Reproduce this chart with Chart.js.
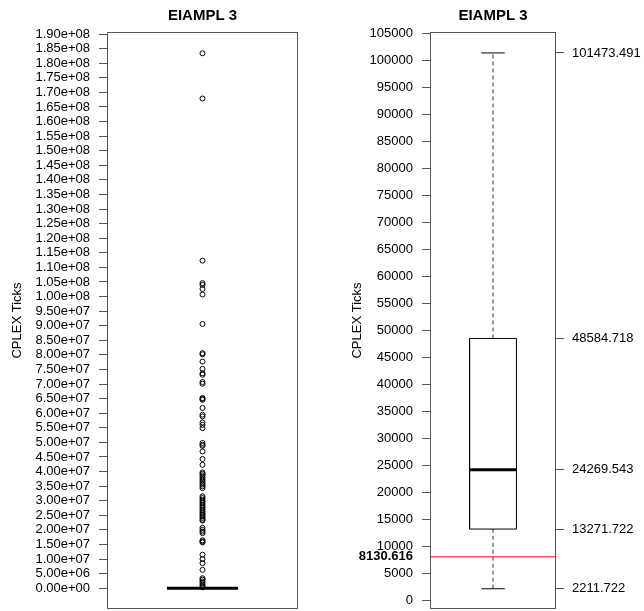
<!DOCTYPE html>
<html lang="en">
<head>
<meta charset="UTF-8">
<title>EIAMPL 3</title>
<script src="https://cdn.jsdelivr.net/npm/chart.js"></script>
<style>
    body { margin: 0; background: #fff; }
    .panel { position: absolute; top: 0; width: 322px; height: 611px; }
    #leftPanel { left: 0; }
    #rightPanel { left: 322px; }
</style>
</head>
<body>
<div class="panel" id="leftPanel"><canvas id="fullChart"></canvas></div>
<div class="panel" id="rightPanel"><canvas id="zoomChart"></canvas></div>
<script>
const chartTitle = 'EIAMPL 3';
const axisTitle = 'CPLEX Ticks';

// lower whisker, Q1, median, Q3, upper whisker
const boxStats = [2211.722, 13271.722, 24269.543, 48584.718, 101473.491];
const threshold = 8130.616;

const outliers = [
    1.834e8, 1.679e8, 1.123e8, 1.046e8, 1.040e8, 1.026e8, 1.007e8, 9.06e7,
    8.06e7, 8.02e7, 7.77e7, 7.52e7, 7.37e7, 7.32e7, 7.07e7, 7.01e7,
    6.52e7, 6.49e7, 6.46e7, 6.18e7, 5.95e7, 5.89e7, 5.68e7, 5.60e7, 5.49e7,
    4.98e7, 4.92e7, 4.88e7, 4.69e7, 4.43e7, 4.23e7,
    3.97e7, 3.92e7, 3.87e7, 3.80e7, 3.74e7, 3.68e7, 3.61e7, 3.55e7, 3.49e7, 3.43e7,
    3.15e7, 3.09e7, 3.03e7, 2.97e7, 2.92e7, 2.86e7, 2.80e7, 2.75e7, 2.69e7,
    2.63e7, 2.57e7, 2.52e7, 2.46e7, 2.41e7, 2.35e7, 2.32e7,
    2.07e7, 2.00e7, 1.94e7, 1.89e7, 1.64e7, 1.60e7, 1.57e7,
    1.15e7, 1.00e7, 8.6e6, 6.3e6, 3.4e6, 2.9e6, 2.3e6, 1.8e6, 1.2e6, 6e5, 3e5
];

const fullTicks = [
    0, 5e6, 1e7, 1.5e7, 2e7, 2.5e7, 3e7, 3.5e7, 4e7, 4.5e7, 5e7, 5.5e7, 6e7, 6.5e7,
    7e7, 7.5e7, 8e7, 8.5e7, 9e7, 9.5e7, 1e8, 1.05e8, 1.1e8, 1.15e8, 1.2e8, 1.25e8,
    1.3e8, 1.35e8, 1.4e8, 1.45e8, 1.5e8, 1.55e8, 1.6e8, 1.65e8, 1.7e8, 1.75e8,
    1.8e8, 1.85e8, 1.9e8
];
const zoomTicks = [
    0, 5000, 10000, 15000, 20000, 25000, 30000, 35000, 40000, 45000, 50000,
    55000, 60000, 65000, 70000, 75000, 80000, 85000, 90000, 95000, 100000, 105000
];

const FONT = "'Liberation Sans', Arial, sans-serif";
Chart.defaults.font.family = FONT;
Chart.defaults.font.size = 13;
Chart.defaults.color = '#000';

const AXIS_GREY = '#555';
// box position along the hidden 0..1 x scale
const BOX_L = 0.314, BOX_R = 0.686, MID = 0.5, CAP_L = 0.407, CAP_R = 0.593;

function seg(x1, y1, x2, y2, extra) {
    return Object.assign({
        type: 'scatter', showLine: true,
        data: [{ x: x1, y: y1 }, { x: x2, y: y2 }],
        borderColor: '#000', borderWidth: 1, pointRadius: 0
    }, extra || {});
}

function boxDatasets(s) {
    const [lo, q1, med, q3, hi] = s;
    return [
        seg(BOX_L, med, BOX_R, med, { borderWidth: 3 }),
        {
            type: 'scatter', showLine: true,
            data: [{ x: BOX_L, y: q1 }, { x: BOX_R, y: q1 }, { x: BOX_R, y: q3 }, { x: BOX_L, y: q3 }, { x: BOX_L, y: q1 }],
            borderColor: '#000', borderWidth: 1, pointRadius: 0
        },
        seg(CAP_L, hi, CAP_R, hi),
        seg(CAP_L, lo, CAP_R, lo),
        seg(MID, q3, MID, hi, { borderDash: [4, 3], borderColor: '#333' }),
        seg(MID, lo, MID, q1, { borderDash: [4, 3], borderColor: '#333' })
    ];
}

function sci(v) {
    if (v === 0) return '0.00e+00';
    const e = Math.floor(Math.log10(v) + 1e-9);
    const m = v / Math.pow(10, e);
    return m.toFixed(2) + 'e+' + String(e).padStart(2, '0');
}

function fixWidth(w) {
    return function (scale) {
        scale.width = w;
        scale.paddingTop = 0;
        scale.paddingBottom = 0;
    };
}

function topTitleAxis() {
    return {
        type: 'linear', position: 'top', min: 0, max: 1,
        grid: { display: false, drawTicks: false },
        border: { display: false },
        ticks: { display: false },
        title: { display: true, text: chartTitle, font: { size: 15, weight: 'bold' }, padding: { top: 7, bottom: 7 } }
    };
}

const frame = {
    id: 'frame',
    afterDatasetsDraw(chart) {
        const { ctx, chartArea: a } = chart;
        ctx.save();
        ctx.strokeStyle = AXIS_GREY;
        ctx.lineWidth = 1;
        ctx.strokeRect(Math.round(a.left) + 0.5, Math.round(a.top) + 0.5,
            Math.round(a.right - a.left) - 1, Math.round(a.bottom - a.top) - 1);
        ctx.restore();
    }
};

const common = {
    responsive: true,
    maintainAspectRatio: false,
    animation: false,
    events: [],
    plugins: { legend: { display: false }, tooltip: { enabled: false } }
};

// left: full data with outliers
new Chart(document.getElementById('fullChart'), {
    type: 'scatter',
    data: {
        datasets: boxDatasets(boxStats).concat([{
            type: 'scatter',
            data: outliers.map(v => ({ x: MID, y: v })),
            pointStyle: 'circle', pointRadius: 2.5,
            pointBackgroundColor: 'rgba(0,0,0,0)', pointBorderColor: '#000', pointBorderWidth: 1,
            showLine: false
        }])
    },
    options: Object.assign({}, common, {
        layout: { autoPadding: false, padding: { left: 0, right: 24, top: 0, bottom: 2 } },
        scales: {
            x: topTitleAxis(),
            y: {
                type: 'linear', min: -7.13e6, max: 1.907e8,
                afterBuildTicks: s => { s.ticks = fullTicks.map(v => ({ value: v })); },
                afterFit: fixWidth(107),
                ticks: { autoSkip: false, padding: 9, callback: v => sci(v) },
                grid: { drawOnChartArea: false, drawTicks: true, tickLength: 8, tickColor: AXIS_GREY },
                border: { display: false },
                title: { display: true, text: axisTitle, padding: { top: 10, bottom: 0 } }
            }
        }
    }),
    plugins: [frame]
});

// right: zoomed to the box, with threshold line
new Chart(document.getElementById('zoomChart'), {
    type: 'scatter',
    data: {
        datasets: [seg(0, threshold, 1, threshold, { borderColor: '#ff0000' })].concat(boxDatasets(boxStats))
    },
    options: Object.assign({}, common, {
        layout: { autoPadding: false, padding: { left: 0, right: 0, top: 0, bottom: 2 } },
        scales: {
            x: topTitleAxis(),
            y: {
                type: 'linear', min: -1537, max: 105353,
                afterBuildTicks: s => { s.ticks = zoomTicks.concat([threshold]).map(v => ({ value: v })); },
                afterFit: fixWidth(108),
                ticks: {
                    autoSkip: false, padding: 9,
                    callback: v => v === threshold ? threshold.toFixed(3) : String(v),
                    font: ctx => (ctx.tick && ctx.tick.value === threshold)
                        ? { family: FONT, size: 13, weight: 'bold' }
                        : { family: FONT, size: 13 }
                },
                grid: {
                    drawOnChartArea: false, drawTicks: true, tickLength: 8,
                    tickColor: ctx => (ctx.tick && ctx.tick.value === threshold) ? 'rgba(0,0,0,0)' : AXIS_GREY
                },
                border: { display: false },
                title: { display: true, text: axisTitle, padding: { top: 28, bottom: 0 } }
            },
            y2: {
                type: 'linear', position: 'right', min: -1537, max: 105353,
                afterBuildTicks: s => { s.ticks = boxStats.map(v => ({ value: v })); },
                afterFit: fixWidth(88),
                ticks: { autoSkip: false, padding: 8, callback: v => v.toFixed(3) },
                grid: { drawOnChartArea: false, drawTicks: true, tickLength: 8, tickColor: AXIS_GREY },
                border: { display: false }
            }
        }
    }),
    plugins: [frame]
});
</script>
</body>
</html>
